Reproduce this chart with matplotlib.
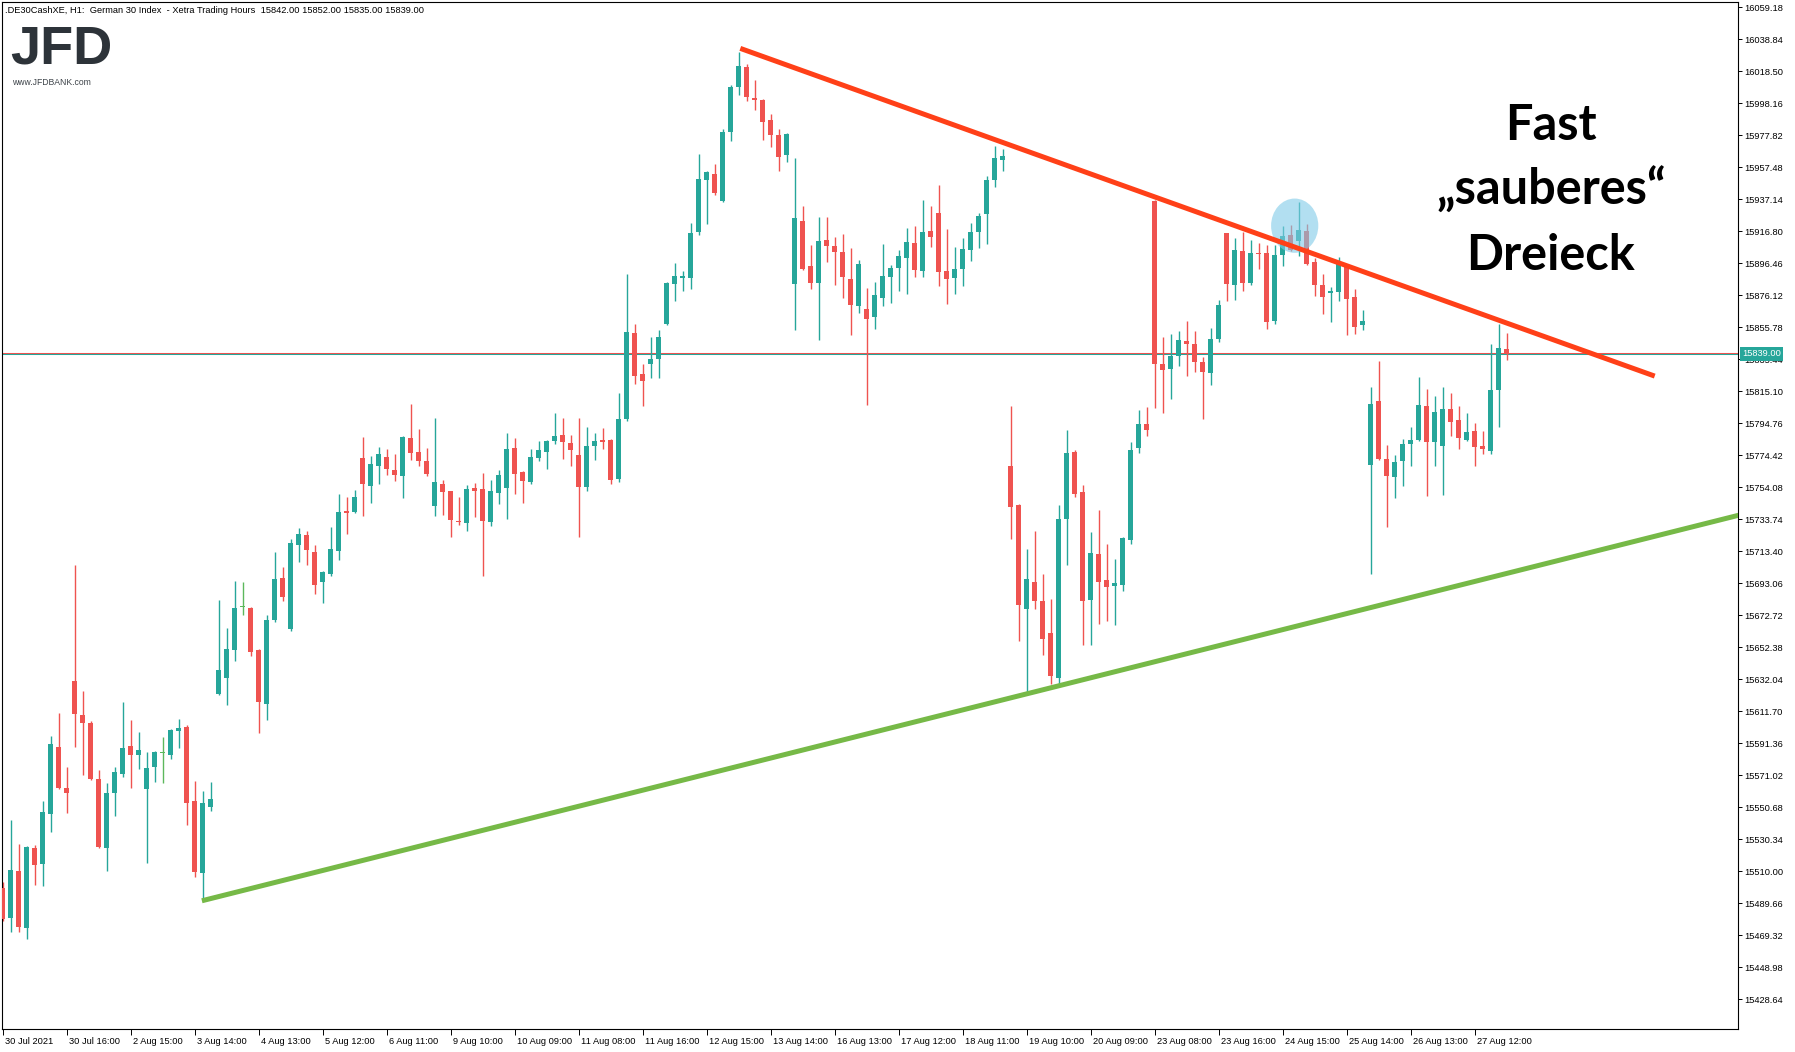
import numpy as np
import matplotlib
matplotlib.use('Agg')
import matplotlib.pyplot as plt
from matplotlib import font_manager
from matplotlib.patches import Ellipse
from matplotlib.transforms import blended_transform_factory, offset_copy

# hourly DAX candles, 30 Jul - 27 Aug 2021
opens = [
    15499.6, 15480.5, 15510.2, 15474.2, 15524.8, 15514.8, 15546.6, 15589.0, 15562.9, 15631.0,
    15609.4, 15604.5, 15568.7, 15525.0, 15560.0, 15572.1, 15589.6, 15584.1, 15562.5, 15576.5,
    15585.1, 15584.1, 15599.4, 15601.7, 15554.7, 15509.1, 15551.1, 15622.9, 15633.1, 15650.9,
    15677.8, 15677.4, 15650.7, 15616.6, 15669.7, 15696.4, 15664.2, 15717.4, 15723.8, 15713.0,
    15694.1, 15699.0, 15713.6, 15739.0, 15738.4, 15772.7, 15754.9, 15767.6, 15773.4, 15765.1,
    15761.3, 15785.4, 15776.5, 15770.8, 15742.2, 15756.2, 15751.7, 15732.7, 15731.4, 15753.6,
    15753.0, 15732.0, 15750.5, 15753.6, 15779.1, 15763.8, 15757.5, 15772.7, 15776.5, 15783.5,
    15787.3, 15782.3, 15774.6, 15754.3, 15780.3, 15784.2, 15784.2, 15759.4, 15797.5, 15851.9,
    15826.3, 15832.6, 15835.8, 15858.1, 15883.5, 15887.3, 15887.3, 15916.3, 15949.6, 15953.2,
    15936.3, 15979.9, 16008.5, 16021.2, 16001.5, 16000.3, 15987.5, 15978.0, 15965.3, 15883.3,
    15923.3, 15894.7, 15883.9, 15911.3, 15907.4, 15903.6, 15886.5, 15869.3, 15867.4, 15862.3,
    15874.4, 15887.7, 15893.5, 15899.8, 15909.4, 15891.8, 15916.8, 15928.5, 15891.8, 15887.4,
    15893.1, 15905.2, 15916.6, 15928.1, 15949.5, 15962.0, 15767.6, 15742.9, 15676.7, 15693.9,
    15681.8, 15661.5, 15632.9, 15734.0, 15776.5, 15751.1, 15682.5, 15711.7, 15695.2, 15691.4,
    15692.0, 15720.6, 15779.1, 15794.3, 15936.1, 15832.5, 15829.3, 15837.6, 15847.1, 15845.2,
    15833.8, 15826.7, 15848.3, 15915.7, 15882.7, 15904.3, 15883.9, 15903.0, 15903.0, 15859.8,
    15901.7, 15914.4, 15910.6, 15917.0, 15897.3, 15882.7, 15877.6, 15878.2, 15895.4, 15875.0,
    15857.2, 15768.2, 15808.9, 15772.0, 15760.6, 15770.8, 15781.6, 15784.1, 15805.7, 15782.8,
    15780.3, 15803.8, 15796.8, 15784.1, 15789.8, 15780.3, 15777.1, 15815.9, 15842.0,
]
highs = [
    15503.0, 15542.6, 15527.3, 15526.1, 15526.9, 15554.7, 15596.0, 15610.6, 15576.3, 15704.7,
    15624.6, 15605.5, 15574.4, 15566.1, 15576.3, 15617.6, 15606.2, 15598.5, 15585.8, 15586.5,
    15595.4, 15600.5, 15606.8, 15603.0, 15567.4, 15561.0, 15566.8, 15682.5, 15664.7, 15694.5,
    15693.9, 15678.0, 15651.5, 15672.9, 15713.0, 15703.4, 15721.0, 15728.0, 15726.3, 15717.4,
    15700.9, 15728.9, 15749.8, 15747.9, 15752.4, 15786.1, 15774.0, 15779.7, 15778.4, 15775.3,
    15786.5, 15807.0, 15791.2, 15779.1, 15798.1, 15758.7, 15752.0, 15747.9, 15755.6, 15756.8,
    15763.2, 15758.7, 15765.1, 15788.6, 15785.4, 15764.5, 15778.4, 15783.5, 15784.2, 15801.3,
    15798.1, 15787.3, 15798.1, 15792.4, 15788.6, 15791.8, 15784.5, 15814.0, 15889.6, 15857.9,
    15832.6, 15849.6, 15854.0, 15884.3, 15896.6, 15891.6, 15922.1, 15965.9, 15955.1, 15959.6,
    15981.8, 16009.8, 16030.8, 16023.1, 16013.0, 16000.8, 15991.4, 15981.8, 15979.0, 15963.4,
    15932.9, 15908.1, 15925.9, 15925.9, 15913.2, 15915.1, 15906.2, 15898.5, 15880.7, 15884.6,
    15908.7, 15895.4, 15904.9, 15918.9, 15920.4, 15936.7, 15932.9, 15946.0, 15918.3, 15906.9,
    15912.6, 15922.1, 15928.5, 15952.0, 15971.3, 15969.0, 15805.8, 15743.5, 15714.9, 15726.3,
    15699.0, 15683.1, 15742.9, 15790.5, 15777.8, 15755.6, 15725.7, 15739.7, 15718.1, 15708.5,
    15722.5, 15782.9, 15803.2, 15805.2, 15936.7, 15849.7, 15851.6, 15853.5, 15859.8, 15853.5,
    15836.9, 15855.3, 15873.1, 15916.0, 15912.5, 15916.3, 15911.3, 15909.4, 15908.1, 15908.1,
    15920.2, 15920.8, 15935.4, 15921.4, 15899.8, 15889.6, 15881.4, 15900.4, 15896.0, 15880.1,
    15866.8, 15817.8, 15834.3, 15780.9, 15774.6, 15784.8, 15792.4, 15824.2, 15816.5, 15812.1,
    15817.8, 15814.0, 15805.7, 15801.3, 15794.9, 15789.8, 15845.1, 15857.9, 15852.0,
]
lows = [
    15478.5, 15471.6, 15471.6, 15467.2, 15501.5, 15500.9, 15535.2, 15562.5, 15547.3, 15589.2,
    15571.4, 15568.2, 15525.0, 15510.4, 15545.4, 15570.2, 15563.2, 15575.2, 15515.5, 15567.0,
    15566.3, 15581.6, 15588.6, 15539.6, 15506.6, 15491.7, 15548.5, 15622.0, 15615.9, 15643.9,
    15673.1, 15647.1, 15598.1, 15606.4, 15668.7, 15682.0, 15663.0, 15706.8, 15704.7, 15686.5,
    15680.8, 15697.9, 15707.9, 15724.4, 15737.8, 15735.8, 15744.1, 15756.2, 15761.9, 15758.1,
    15747.3, 15771.4, 15767.6, 15761.3, 15735.8, 15736.5, 15722.5, 15730.1, 15726.3, 15735.2,
    15697.7, 15729.5, 15743.5, 15733.9, 15749.8, 15744.1, 15756.2, 15770.8, 15765.7, 15781.6,
    15772.1, 15767.6, 15722.5, 15751.7, 15771.4, 15778.4, 15756.2, 15757.4, 15796.0, 15819.9,
    15805.9, 15823.7, 15823.7, 15857.0, 15872.7, 15879.1, 15880.3, 15914.7, 15921.6, 15940.1,
    15935.5, 15974.4, 16003.4, 15999.8, 15994.1, 15975.0, 15970.4, 15955.1, 15960.8, 15854.0,
    15892.0, 15880.3, 15847.7, 15897.3, 15882.7, 15874.4, 15850.9, 15864.9, 15806.4, 15854.7,
    15869.3, 15871.2, 15878.8, 15876.9, 15888.0, 15888.0, 15907.1, 15882.3, 15870.8, 15877.2,
    15882.3, 15898.2, 15906.4, 15909.0, 15945.0, 15955.0, 15721.2, 15656.6, 15623.1, 15676.7,
    15647.5, 15629.1, 15629.1, 15704.7, 15747.9, 15653.9, 15653.9, 15667.2, 15669.1, 15666.6,
    15688.2, 15718.1, 15775.9, 15786.7, 15804.5, 15801.3, 15810.2, 15831.2, 15824.9, 15827.4,
    15797.5, 15819.1, 15846.4, 15872.5, 15873.1, 15878.8, 15882.7, 15892.8, 15854.7, 15857.9,
    15894.7, 15904.3, 15901.1, 15895.5, 15875.7, 15864.2, 15859.1, 15872.5, 15850.9, 15851.5,
    15854.0, 15698.9, 15771.4, 15728.8, 15747.2, 15754.9, 15767.6, 15783.5, 15748.5, 15767.6,
    15749.2, 15786.7, 15778.4, 15783.5, 15767.6, 15775.2, 15775.2, 15792.4, 15835.0,
]
closes = [
    15479.7, 15510.8, 15474.8, 15525.4, 15514.2, 15547.7, 15590.9, 15562.9, 15560.0, 15610.2,
    15604.5, 15568.9, 15525.7, 15559.8, 15573.1, 15588.4, 15584.1, 15587.1, 15575.7, 15585.8,
    15585.1, 15599.8, 15601.1, 15553.6, 15509.8, 15553.4, 15556.0, 15638.0, 15651.3, 15677.4,
    15677.8, 15649.6, 15617.8, 15669.7, 15695.8, 15684.6, 15718.7, 15724.4, 15714.2, 15692.0,
    15700.2, 15714.9, 15738.4, 15737.8, 15747.9, 15756.2, 15768.9, 15775.3, 15765.7, 15761.9,
    15786.1, 15775.9, 15770.8, 15762.5, 15757.5, 15751.1, 15733.3, 15732.0, 15753.0, 15751.7,
    15732.7, 15751.7, 15761.9, 15778.4, 15762.5, 15758.1, 15773.4, 15777.8, 15783.5, 15786.7,
    15782.9, 15777.8, 15754.3, 15780.3, 15783.5, 15782.9, 15758.7, 15797.5, 15852.8, 15825.0,
    15821.8, 15835.6, 15849.6, 15883.9, 15888.4, 15888.4, 15915.7, 15950.0, 15954.5, 15941.1,
    15979.9, 16008.5, 16021.9, 16002.2, 16000.3, 15986.5, 15978.0, 15964.0, 15978.6, 15925.2,
    15892.8, 15883.9, 15910.6, 15907.4, 15903.6, 15887.7, 15869.9, 15896.0, 15861.0, 15876.3,
    15888.4, 15893.5, 15901.1, 15910.0, 15892.2, 15916.4, 15913.4, 15891.2, 15886.7, 15892.9,
    15905.6, 15916.4, 15926.6, 15949.5, 15963.4, 15964.8, 15741.8, 15679.3, 15695.8, 15681.8,
    15657.7, 15634.1, 15734.0, 15775.9, 15749.8, 15681.8, 15712.3, 15693.9, 15690.7, 15693.3,
    15721.9, 15777.8, 15794.3, 15790.5, 15832.5, 15828.7, 15837.6, 15847.7, 15845.2, 15833.8,
    15827.4, 15848.3, 15869.9, 15883.3, 15904.9, 15883.9, 15903.0, 15902.4, 15859.1, 15901.7,
    15913.8, 15904.9, 15917.6, 15896.0, 15882.7, 15875.0, 15878.8, 15896.0, 15873.8, 15856.0,
    15859.8, 15807.0, 15772.0, 15761.2, 15770.1, 15781.6, 15784.1, 15806.4, 15782.8, 15801.9,
    15803.8, 15795.6, 15785.4, 15789.2, 15779.7, 15778.4, 15815.9, 15842.6, 15839.0,
]

date_labels = ['30 Jul 2021', '30 Jul 16:00', '2 Aug 15:00', '3 Aug 14:00', '4 Aug 13:00',
               '5 Aug 12:00', '6 Aug 11:00', '9 Aug 10:00', '10 Aug 09:00', '11 Aug 08:00',
               '11 Aug 16:00', '12 Aug 15:00', '13 Aug 14:00', '16 Aug 13:00', '17 Aug 12:00',
               '18 Aug 11:00', '19 Aug 10:00', '20 Aug 09:00', '23 Aug 08:00', '23 Aug 16:00',
               '24 Aug 15:00', '25 Aug 14:00', '26 Aug 13:00', '27 Aug 12:00']
price_ticks = [15428.64, 15448.98, 15469.32, 15489.66, 15510.00, 15530.34, 15550.68, 15571.02,
               15591.36, 15611.70, 15632.04, 15652.38, 15672.72, 15693.06, 15713.40, 15733.74,
               15754.08, 15774.42, 15794.76, 15815.10, 15835.44, 15855.78, 15876.12, 15896.46,
               15916.80, 15937.14, 15957.48, 15977.82, 15998.16, 16018.50, 16038.84, 16059.18]
last_price = 15839.00
ask_price = 15839.7

# trend lines (bar index, price)
red_line_x = [92.2, 206.5]
red_line_y = [16033.1, 15824.8]
green_line_x = [24.9, 217.5]
green_line_y = [15491.3, 15737.0]

# highlighted touch point
circle_x, circle_y = 161.5, 15920.4

title = '.DE30CashXE, H1:  German 30 Index  - Xetra Trading Hours  15842.00 15852.00 15835.00 15839.00'

BULL = '#26a69a'
BEAR = '#ef5350'
DOJI = '#5cb85c'


def pick_font(names):
    for n in names:
        try:
            font_manager.findfont(font_manager.FontProperties(family=n), fallback_to_default=False)
            return n
        except ValueError:
            continue
    return 'DejaVu Sans'


small_font = pick_font(['Liberation Sans', 'DejaVu Sans'])
big_font = pick_font(['Lato', 'Open Sans', 'DejaVu Sans'])
SMALL = 6.7

W, H = 1795, 1052
fig = plt.figure(figsize=(W / 100, H / 100), dpi=100)
fig.patch.set_facecolor('white')

left_px, right_px, top_px, bottom_px = 2.3, 1738.0, 1.5, 1029.0
ax = fig.add_axes([left_px / W, 1 - bottom_px / H,
                   (right_px - left_px) / W, (bottom_px - top_px) / H])
ax.set_xlim((left_px - 2.7) / 8, (right_px - 2.7) / 8)
ax.set_ylim(15409.8, 16062.9)

o = np.array(opens)
h = np.array(highs)
l = np.array(lows)
c = np.array(closes)
x = np.arange(len(o))
cols = np.where(c > o, BULL, np.where(c < o, BEAR, DOJI))

ax.vlines(x, l, h, colors=cols, lw=1.0, zorder=2)
ax.bar(x, np.maximum(np.abs(c - o), 0.6), width=0.68, bottom=np.minimum(o, c),
       color=cols, linewidth=0, zorder=3)

# ask / bid lines
ax.axhline(ask_price, color=BEAR, lw=0.75, zorder=1)
ax.axhline(last_price, color=BULL, lw=0.75, zorder=1)

ax.add_patch(Ellipse((circle_x, circle_y), 5.9, 34.5, facecolor='#7fcbe8',
                     edgecolor='none', alpha=0.6, zorder=4))
ax.plot(green_line_x, green_line_y, color='#76b947', lw=3.6, solid_capstyle='butt', zorder=5)
ax.plot(red_line_x, red_line_y, color='#ff4018', lw=3.6, solid_capstyle='butt', zorder=5)

for s in ax.spines.values():
    s.set_color('black')
    s.set_linewidth(0.8)

# price axis on the right
ax.yaxis.tick_right()
ax.set_yticks(price_ticks)
ax.set_yticklabels(['%.2f' % v for v in price_ticks])
ax.tick_params(axis='y', direction='out', length=3, width=0.7, pad=1.5,
               labelsize=SMALL, colors='black')
for t in ax.get_yticklabels():
    t.set_fontfamily(small_font)

# time axis: ticks every 8 bars, labels to the right of each tick
tick_bars = np.arange(len(date_labels)) * 8
ax.set_xticks(tick_bars)
ax.set_xticklabels([])
ax.tick_params(axis='x', direction='out', length=4, width=0.7, colors='black')
trans = blended_transform_factory(ax.transData, fig.transFigure)
trans = offset_copy(trans, fig=fig, x=2, y=0, units='dots')
for b, lab in zip(tick_bars, date_labels):
    ax.text(b, 1 - 1041.5 / H, lab, transform=trans, ha='left', va='center',
            fontsize=SMALL, family=small_font, clip_on=False)

# current price tag
tag_trans = offset_copy(blended_transform_factory(ax.transAxes, ax.transData),
                        fig=fig, x=4, y=0, units='dots')
ax.text(1.0, last_price, '%.2f' % last_price, transform=tag_trans, ha='left', va='center',
        fontsize=SMALL, family=small_font, color='white', clip_on=False, zorder=10,
        bbox=dict(boxstyle='square,pad=0.25', fc=BULL, ec='none'))

# header and logo
fig.text(5 / W, 1 - 10.5 / H, title, fontsize=SMALL, family=small_font, va='center', ha='left')
fig.text(10 / W, 1 - 64 / H, 'JFD', fontsize=39, family='Liberation Sans', weight='bold',
         color='#2d3339', va='baseline', ha='left')
fig.text(12 / W, 1 - 78 / H, 'www.JFDBANK.com', fontsize=6.2, family=small_font,
         color='#3d4349', va='top', ha='left')

# annotation
for txt, base in [('Fast', 140), ('\u201esauberes\u201c', 205), ('Dreieck', 270)]:
    fig.text(1551 / W, 1 - base / H, txt, fontsize=35, family=big_font, weight='bold',
             color='black', ha='center', va='baseline')

fig.savefig('out.png', dpi=100, facecolor='white')
